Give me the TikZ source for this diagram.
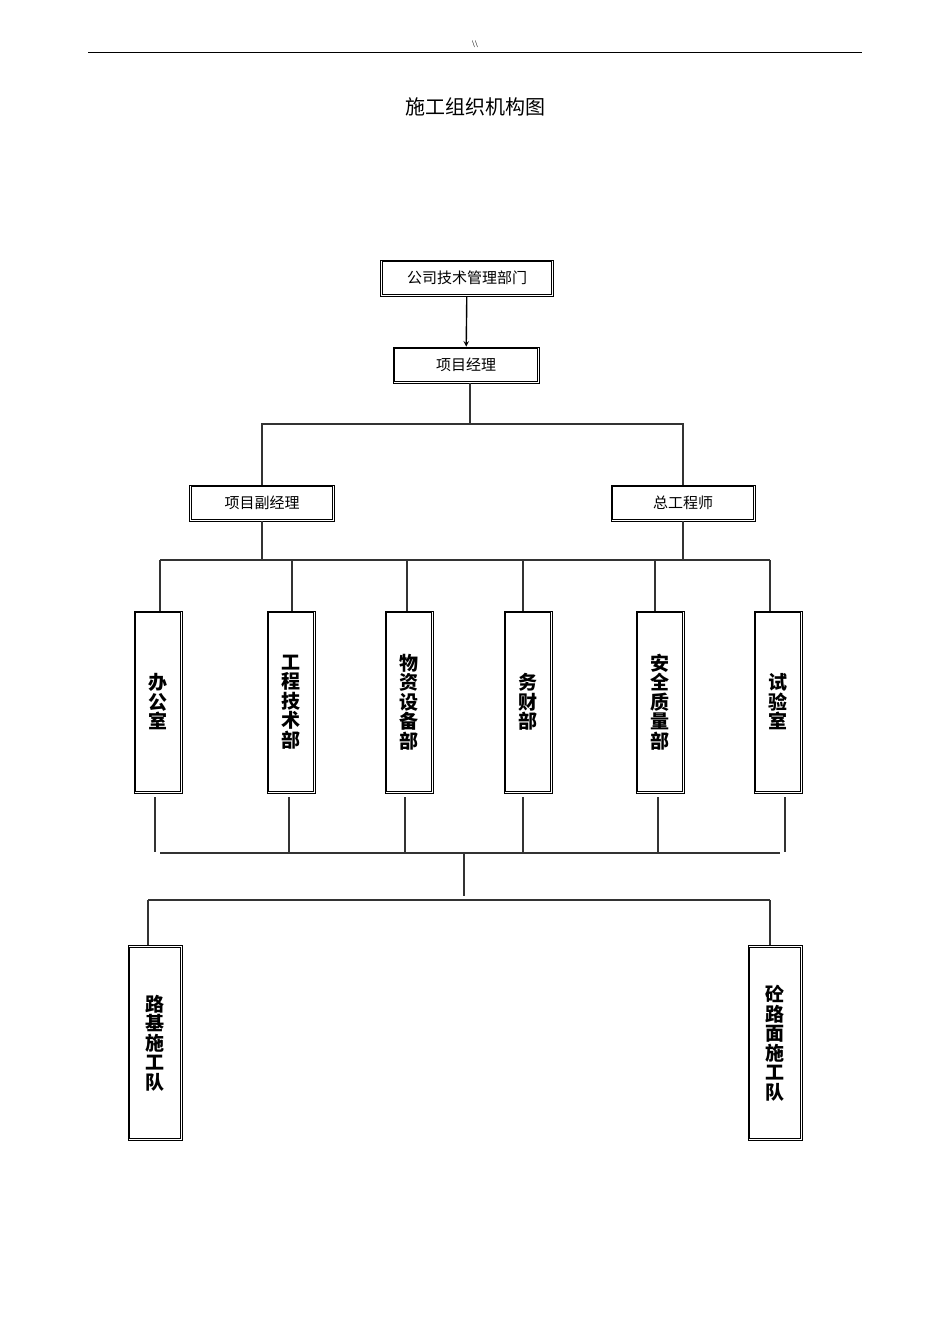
\documentclass[tikz,border=0pt]{standalone}
\usepackage{fontspec}
\setmainfont{Liberation Serif}
\newfontfamily\cjk{Noto Sans CJK SC}
\usetikzlibrary{positioning}
\begin{document}
\begin{tikzpicture}[x=1pt,y=1pt,line width=1.2pt,>=stealth,
  box/.style={draw,line width=0.8pt,inner sep=0pt,
    font=\cjk\fontsize{15}{17}\selectfont},
  vbox/.style={draw,line width=0.8pt,inner sep=0pt,
    minimum width=48pt,align=center,font=\cjk\bfseries\fontsize{19}{19.5}\selectfont},
  link/.style={line width=1.2pt,draw=black!80}]
\useasboundingbox (0,0) rectangle (950,-1344);
% header
\draw[line width=1pt] (88,-52) -- (862,-52);
\node[font=\fontsize{10}{12}\selectfont] at (475,-44) {\textbackslash\textbackslash};
\node[font=\cjk\fontsize{20}{24}\selectfont] at (475,-107) {施工组织机构图};

% upper levels
\node[box,minimum width=173pt,minimum height=36pt] (dept) at (467,-278) {公司技术管理部门};
\node[box,minimum width=146pt,minimum height=36pt] (pm) at (466,-365) {项目经理};
\node[box,minimum width=145pt,minimum height=36pt] (dpm) at (262,-503) {项目副经理};
\node[box,minimum width=144pt,minimum height=36pt] (ce) at (683,-503) {总工程师};
\draw[->,line width=1.4pt] (dept) -- (pm);
\coordinate (j1) at (470,-424);
\draw[link] (pm.south -| j1) -- (j1);
\draw[link] (dpm.north) |- (j1) -| (ce.north);

% departments
\foreach \x/\n/\t in {158/d1/办\\公\\室, 291/d2/工\\程\\技\\术\\部, 409/d3/物\\资\\设\\备\\部,
    528/d4/务\\财\\部, 660/d5/安\\全\\质\\量\\部, 778/d6/试\\验\\室}
  \node[vbox,minimum height=182pt] (\n) at (\x,-702) {\t};
\coordinate (j2) at (160,-560);
\coordinate (j3) at (770,-560);
\draw[link] (dpm.south) -- (dpm.south |- j2);
\draw[link] (ce.south) -- (ce.south |- j2);
\draw[link] (j2) -- (j3);
\foreach \n/\x in {d1/160,d2/292,d3/407,d4/523,d5/655,d6/770}
  \draw[link] (\x,-560) -- (\n.north -| \x,-560);

% lower join
\draw[link] (160,-853) -- (780,-853);
\foreach \x in {155,289,405,523,658,785}
  \draw[link] (\x,-797) -- (\x,-852);
\draw[link] (464,-853) -- (464,-896);
\draw[link] (148,-900) -- (770,-900);

% teams
\node[vbox,minimum width=54pt,minimum height=195pt] (t1) at (155,-1043) {路\\基\\施\\工\\队};
\node[vbox,minimum width=54pt,minimum height=195pt] (t2) at (775,-1043) {砼\\路\\面\\施\\工\\队};
\draw[link] (148,-900) -- (148,-945);
\draw[link] (770,-900) -- (770,-945);

% inner frames
\foreach \n in {dept,pm,dpm,ce,d1,d2,d3,d4,d5,d6,t1,t2}
  \draw[line width=0.8pt] ([shift={(2.2pt,2.2pt)}]\n.south west) rectangle ([shift={(-2.2pt,-2.2pt)}]\n.north east);
\end{tikzpicture}
\end{document}
